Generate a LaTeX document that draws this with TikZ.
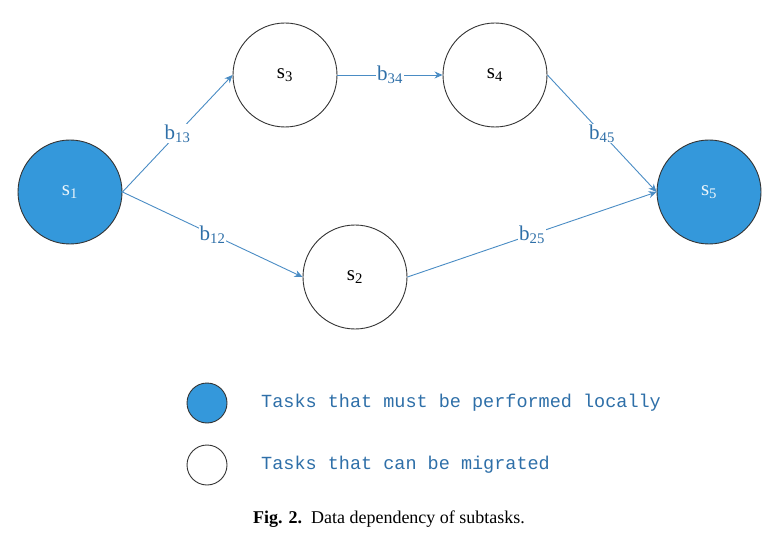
\documentclass[tikz,border=0pt]{standalone}
\usepackage{fontspec}
\setmainfont{Liberation Serif}
\setmonofont{Liberation Mono}
\usepackage{xcolor}
\usetikzlibrary{arrows.meta}

\definecolor{taskblue}{HTML}{3498DB}
\definecolor{edgeblue}{HTML}{4A8CC4}
\definecolor{textblue}{HTML}{2E6FA8}

\begin{document}
\begin{tikzpicture}[x=1pt, y=-1pt,
		task/.style = {circle, draw=black!80, line width=0.9pt, minimum size=104pt, inner sep=0pt, font=\fontsize{21}{21}\selectfont},
		localtask/.style = {task, fill=taskblue, text=white!90!taskblue},
		migtask/.style = {task, fill=white, text=black},
		dep/.style = {draw=edgeblue, line width=0.9pt, -{Stealth[length=8pt, width=7pt]}},
		deplabel/.style = {midway, fill=white, inner sep=1pt, text=textblue, font=\fontsize{21}{21}\selectfont},
		keydot/.style = {circle, draw=black!80, line width=0.9pt, minimum size=40pt, inner sep=0pt},
		keytext/.style = {right, inner sep=0pt, text=textblue, font=\ttfamily\fontsize{18.5}{18.5}\selectfont}
	]
	\useasboundingbox (0,0) rectangle (783,534);

	% subtasks
	\node [localtask] (s1) at (70,192) {s\textsubscript{1}};
	\node [migtask] (s3) at (285,75) {s\textsubscript{3}};
	\node [migtask] (s4) at (495,75) {s\textsubscript{4}};
	\node [migtask] (s2) at (355,277) {s\textsubscript{2}};
	\node [localtask] (s5) at (709,192) {s\textsubscript{5}};

	% data dependencies
	\draw [dep] (s1.east) -- (s3.west) node [deplabel] {b\textsubscript{13}};
	\draw [dep] (s1.east) -- (s2.west) node [deplabel] {b\textsubscript{12}};
	\draw [dep] (s3.east) -- (s4.west) node [deplabel] {b\textsubscript{34}};
	\draw [dep] (s4.east) -- (s5.west) node [deplabel] {b\textsubscript{45}};
	\draw [dep] (s2.east) -- (s5.west) node [deplabel] {b\textsubscript{25}};

	% legend
	\node [keydot, fill=taskblue] (keylocal) at (207,403) {};
	\node [keydot, fill=white] (keymig) at (207,465) {};
	\node [keytext] (txtlocal) at (261,403) {Tasks that must be performed locally};
	\node [keytext] (txtmig) at (261,465) {Tasks that can be migrated};

	% caption
	\node [font=\fontsize{18}{18}\selectfont] (caption) at (389,519) {\textbf{Fig. 2.}\enspace Data dependency of subtasks.};
\end{tikzpicture}
\end{document}
